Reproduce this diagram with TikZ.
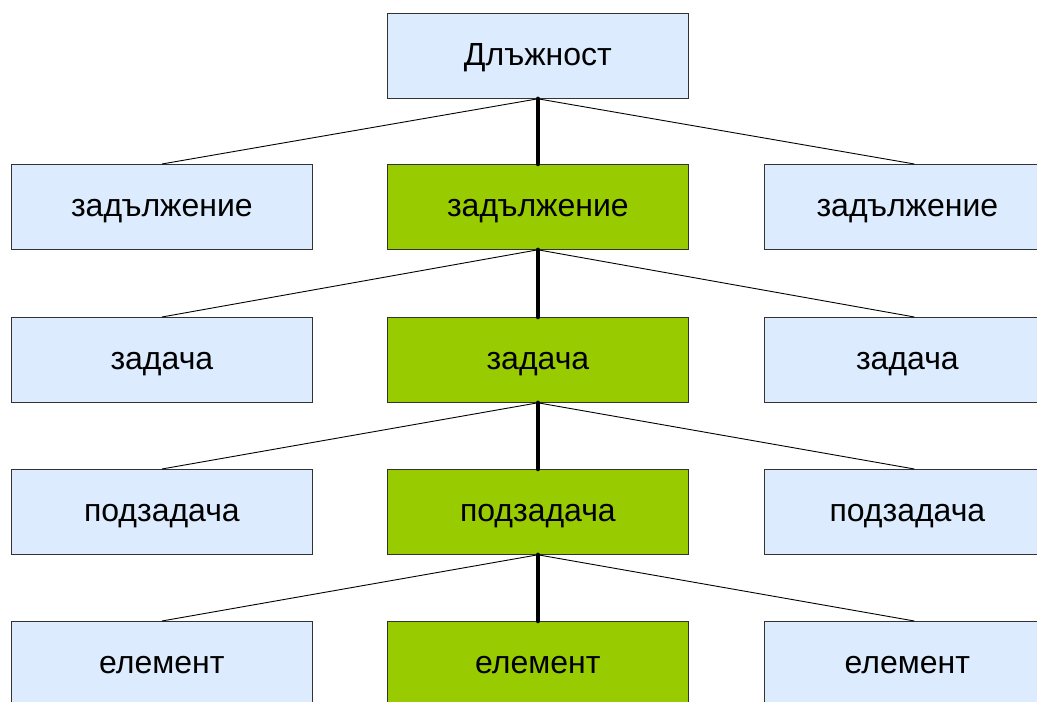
\documentclass[tikz,border=0pt]{standalone}
\usepackage{fontspec}
\setmainfont{Liberation Sans}
\definecolor{lblue}{HTML}{DCEBFD}
\definecolor{lgreen}{HTML}{99CC00}
\definecolor{bord}{HTML}{333333}
\begin{document}
\begin{tikzpicture}[x=1pt,y=-1pt,
  box/.style={draw=bord,line width=0.8pt,minimum width=301pt,minimum height=85pt,inner sep=0pt,text height=24pt,text depth=5pt,anchor=north west,font=\fontsize{32}{36}\selectfont},
  bl/.style={box,fill=lblue},
  br/.style={bl,minimum width=300pt},
  gr/.style={box,fill=lgreen},
  thin/.style={line width=0.9pt},
  thick/.style={line width=4.5pt,line cap=round}]
\useasboundingbox (0,0) rectangle (1037,702);
\clip (0,0) rectangle (1037,702);
\node[bl] (top) at (387,13) {Длъжност};
\node[bl] (l1) at (11,164) {задължение};
\node[gr] (m1) at (387,164) {задължение};
\node[br] (r1) at (764,164) {\hspace*{-14pt}задължение};
\node[bl] (l2) at (11,317) {задача};
\node[gr] (m2) at (387,317) {задача};
\node[br] (r2) at (764,317) {\hspace*{-14pt}задача};
\node[bl] (l3) at (11,469) {подзадача};
\node[gr] (m3) at (387,469) {подзадача};
\node[br] (r3) at (764,469) {\hspace*{-14pt}подзадача};
\node[bl] (l4) at (11,621) {елемент};
\node[gr] (m4) at (387,621) {елемент};
\node[br] (r4) at (764,621) {\hspace*{-14pt}елемент};
\foreach \p/\c in {top/1,m1/2,m2/3,m3/4}{
  \draw[thin] (\p.south) -- (l\c.north);
  \draw[thin] (\p.south) -- (r\c.north);
  \draw[thick] (\p.south) -- (m\c.north);
}
\end{tikzpicture}
\end{document}
